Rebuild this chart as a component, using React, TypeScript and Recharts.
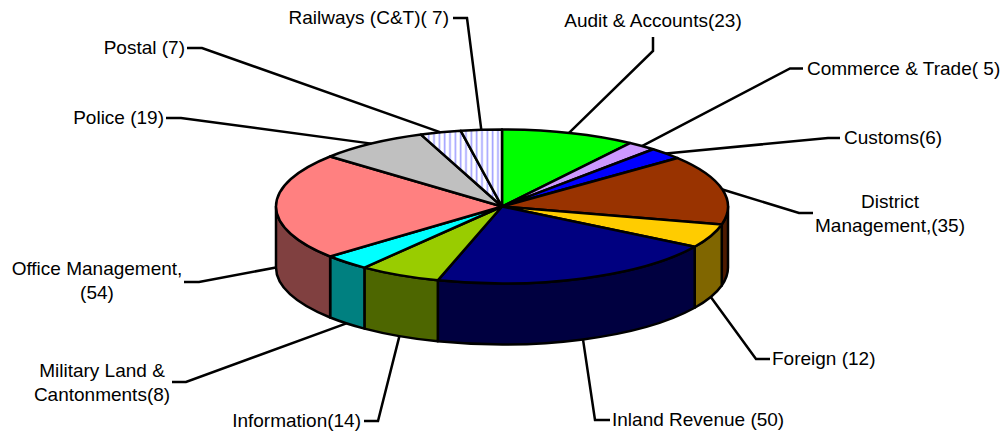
import React from "react";
import { PieChart, Pie } from "recharts";

const categories = [
  "Audit & Accounts(23)",
  "Commerce & Trade( 5)",
  "Customs(6)",
  "District\nManagement,(35)",
  "Foreign (12)",
  "Inland Revenue (50)",
  "Information(14)",
  "Military Land &\nCantonments(8)",
  "Office Management,\n(54)",
  "Police (19)",
  "Postal (7)",
  "Railways (C&T)( 7)",
];
const values = [23, 5, 6, 35, 12, 50, 14, 8, 54, 19, 7, 7];
const topColors = [
  "#00ff00", "#cc99ff", "#0000ff", "#993300", "#ffcc00", "#000080",
  "#99cc00", "#00ffff", "#ff8080", "#c0c0c0", "url(#stripes)", "url(#stripes)",
];
const wallColors = [
  "#008000", "#664d80", "#000080", "#4d1a00", "#806600", "#000040",
  "#4d6600", "#008080", "#804040", "#606060", "#808080", "#808080",
];

const CX = 502;
const CY = 206.5;
const RX = 226;
const RY = 77;
const DEPTH = 61;
const FONT = "'Liberation Sans', Arial, sans-serif";
const FONT_SIZE = 19;
const LINE_W = 2.5;
const LINE_GAP = 24.5;

// Leader-line knee, leader-line tail, text anchor point for each label.
type Lay = { knee: [number, number]; tail: [number, number]; tx: number; ty: number; anchor: string };
const labelLayout: Lay[] = [
  { knee: [653, 51], tail: [653, 37], tx: 653, ty: 21, anchor: "middle" },
  { knee: [790, 68.5], tail: [803, 68.5], tx: 807, ty: 69, anchor: "start" },
  { knee: [828, 138], tail: [840, 138], tx: 844, ty: 138, anchor: "start" },
  { knee: [799, 213], tail: [813, 213], tx: 890, ty: 202, anchor: "middle" },
  { knee: [756, 359], tail: [770, 359], tx: 772, ty: 359, anchor: "start" },
  { knee: [595, 420], tail: [610, 420], tx: 612, ty: 420, anchor: "start" },
  { knee: [378, 421], tail: [364, 421], tx: 361, ty: 421, anchor: "end" },
  { knee: [186, 382], tail: [172, 382], tx: 102, ty: 371, anchor: "middle" },
  { knee: [199, 282], tail: [184, 282], tx: 97, ty: 269, anchor: "middle" },
  { knee: [181, 118], tail: [166, 118], tx: 164, ty: 118, anchor: "end" },
  { knee: [202, 48], tail: [187, 48], tx: 185, ty: 48, anchor: "end" },
  { knee: [467, 18], tail: [453, 18], tx: 449, ty: 18, anchor: "end" },
];

const sliceTable = categories.map((name, i) => ({
  name,
  value: values[i],
  fill: topColors[i],
  wall: wallColors[i],
}));

const rad = (d: number) => (d * Math.PI) / 180;
const pt = (a: number, dy = 0): [number, number] => [
  CX + RX * Math.cos(rad(a)),
  CY - RY * Math.sin(rad(a)) + dy,
];

function TopSlice(p: any) {
  const a = p.startAngle;
  const b = p.endAngle;
  const [x0, y0] = pt(a);
  const [x1, y1] = pt(b);
  const large = Math.abs(a - b) > 180 ? 1 : 0;
  return (
    <path
      d={`M${CX},${CY}L${x0},${y0}A${RX},${RY} 0 ${large} 1 ${x1},${y1}Z`}
      fill={p.fill}
      stroke="#000"
      strokeWidth={LINE_W}
      strokeLinejoin="round"
    />
  );
}

function WallSlice(p: any) {
  const s = Math.min(p.startAngle, 0);
  const e = Math.max(p.endAngle, -180);
  if (s <= e) return <g />;
  const [x0, y0] = pt(s);
  const [x1, y1] = pt(e);
  const wall = p.wall ?? p.payload?.wall;
  return (
    <path
      d={`M${x0},${y0}A${RX},${RY} 0 0 1 ${x1},${y1}L${x1},${y1 + DEPTH}A${RX},${RY} 0 0 0 ${x0},${y0 + DEPTH}Z`}
      fill={wall}
      stroke="#000"
      strokeWidth={LINE_W}
      strokeLinejoin="round"
    />
  );
}

function SliceLabel(p: any) {
  const lay = labelLayout[p.index];
  const m = p.midAngle;
  const front = Math.sin(rad(m)) < 1e-6;
  const [ex, ey] = pt(m, front ? DEPTH : 0);
  const lines = String(p.name).split("\n");
  return (
    <g>
      <polyline
        points={`${ex},${ey} ${lay.knee[0]},${lay.knee[1]} ${lay.tail[0]},${lay.tail[1]}`}
        fill="none"
        stroke="#000"
        strokeWidth={LINE_W}
      />
      {lines.map((t, i) => (
        <text
          key={i}
          x={lay.tx}
          y={lay.ty + i * LINE_GAP + 5.8}
          textAnchor={lay.anchor as any}
          fontFamily={FONT}
          fontSize={FONT_SIZE}
          fill="#000"
        >
          {t}
        </text>
      ))}
    </g>
  );
}

export default function App() {
  return (
    <div style={{ position: "absolute", left: 0, top: 0, width: 1005, height: 432, background: "#fff" }}>
      <PieChart width={1005} height={432} margin={{ top: 0, right: 0, bottom: 0, left: 0 }}>
        <defs>
          <pattern id="stripes" patternUnits="userSpaceOnUse" x={0} y={0} width={5.33} height={10}>
            <rect width={5.33} height={10} fill="#fff" />
            <rect x={1.5} width={1.6} height={10} fill="#a0a0ff" />
          </pattern>
        </defs>
        <Pie
          data={sliceTable}
          dataKey="value"
          nameKey="name"
          cx={CX}
          cy={CY}
          innerRadius={0}
          outerRadius={RX}
          startAngle={90}
          endAngle={-270}
          stroke="none"
          shape={WallSlice}
          label={false}
          labelLine={false}
          isAnimationActive={false}
        />
        <Pie
          data={sliceTable}
          dataKey="value"
          nameKey="name"
          cx={CX}
          cy={CY}
          innerRadius={0}
          outerRadius={RX}
          startAngle={90}
          endAngle={-270}
          stroke="none"
          shape={TopSlice}
          label={SliceLabel}
          labelLine={false}
          isAnimationActive={false}
        />
      </PieChart>
    </div>
  );
}
